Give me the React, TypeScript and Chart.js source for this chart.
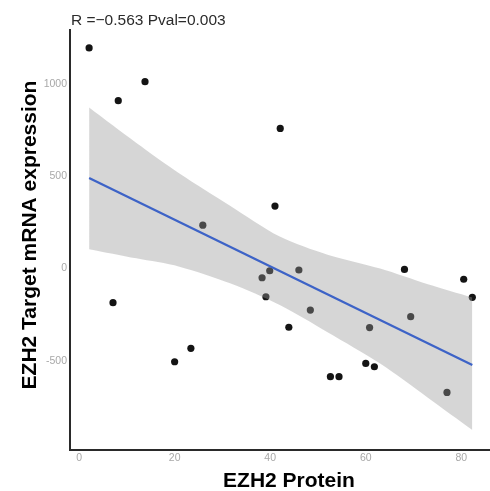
import { useEffect, useRef } from 'react';
import { Chart, registerables } from 'chart.js';

Chart.register(...registerables);

// EZH2 protein (x) vs EZH2 target mRNA expression (y)
const proteinX = [2.1, 8.2, 13.8, 7.1, 20.0, 23.4, 25.9, 42.1, 41.0, 38.3, 39.9, 46.0, 68.1, 80.5, 82.3, 39.1, 43.9, 48.4, 60.8, 69.4, 60.0, 61.8, 52.6, 54.4, 77.0];
const mrnaY = [1195, 909, 1012, -185, -505, -432, 235, 759, 338, -50, -12, -8, -5, -58, -156, -153, -318, -225, -320, -261, -514, -532, -586, -586, -671];

// fitted line and its confidence band
const fitX = [2.1, 82.3];
const fitY = [490, -523];
const bandX = [2.1, 12, 21, 31.6, 42, 52, 63, 73, 82.3];
const bandUpper = [872, 680, 515, 340, 173, 75, 0, -85, -157];
const bandLower = [105, 55, 10, -80, -198, -345, -515, -700, -875];

const xTicks = [0, 20, 40, 60, 80];
const yTicks = [-500, 0, 500, 1000];

const annotation = 'R =\u22120.563 Pval=0.003';
const xTitle = 'EZH2 Protein';
const yTitle = 'EZH2 Target mRNA expression';

const pts = (xs: number[], ys: number[]) => xs.map((x, i) => ({ x, y: ys[i] }));

const textPlugin = {
  id: 'texts',
  afterDraw(chart: any) {
    const { ctx, chartArea } = chart;
    ctx.save();
    ctx.fillStyle = '#2b2b2b';
    ctx.font = '15.5px "Liberation Sans", Arial, sans-serif';
    ctx.textAlign = 'left';
    ctx.textBaseline = 'alphabetic';
    ctx.fillText(annotation, chartArea.left + 1, 25);

    ctx.fillStyle = '#000';
    ctx.font = 'bold 21px "Liberation Sans", Arial, sans-serif';
    ctx.textAlign = 'center';
    ctx.fillText(xTitle, 289, 487);

    ctx.translate(36, 235);
    ctx.rotate(-Math.PI / 2);
    ctx.fillText(yTitle, 0, 0);
    ctx.restore();
  },
};

export default function App() {
  const ref = useRef<HTMLCanvasElement>(null);
  useEffect(() => {
    if (!ref.current) return;
    const tickFont = { family: '"Liberation Sans", Arial, sans-serif', size: 10.5 };
    const chart = new Chart(ref.current, {
      type: 'scatter',
      data: {
        datasets: [
          {
            data: pts(fitX, fitY),
            showLine: true,
            borderColor: '#3d63c7',
            borderWidth: 2.3,
            pointRadius: 0,
            fill: false,
          },
          {
            data: pts(bandX, bandUpper),
            showLine: true,
            borderWidth: 0,
            borderColor: 'rgba(0,0,0,0)',
            backgroundColor: 'rgba(153,153,153,0.4)',
            pointRadius: 0,
            tension: 0.3,
            fill: '+1',
          },
          {
            data: pts(bandX, bandLower),
            showLine: true,
            borderWidth: 0,
            borderColor: 'rgba(0,0,0,0)',
            pointRadius: 0,
            tension: 0.3,
            fill: false,
          },
          {
            data: pts(proteinX, mrnaY),
            showLine: false,
            pointRadius: 3.6,
            pointBackgroundColor: '#141414',
            pointBorderWidth: 0,
            backgroundColor: '#141414',
          },
        ],
      },
      options: {
        animation: false,
        responsive: false,
        layout: { autoPadding: false, padding: { top: 30, right: 0, left: 0, bottom: 0 } },
        plugins: { legend: { display: false }, tooltip: { enabled: false }, title: { display: false } },
        scales: {
          x: {
            type: 'linear',
            min: -1.9,
            max: 86,
            grid: { display: true, color: 'rgba(0,0,0,0)', drawTicks: false },
            border: { display: true, color: '#2a2a2a', width: 2 },
            ticks: { color: '#a8a8a8', font: tickFont, padding: 2, callback: (v: any) => String(v) },
            afterBuildTicks: (s: any) => { s.ticks = xTicks.map((value) => ({ value })); },
            afterFit: (s: any) => { s.height = 41; },
          },
          y: {
            type: 'linear',
            min: -983,
            max: 1292,
            grid: { display: true, color: 'rgba(0,0,0,0)', drawTicks: false },
            border: { display: true, color: '#2a2a2a', width: 2 },
            ticks: { color: '#a8a8a8', font: tickFont, padding: 3, callback: (v: any) => String(v) },
            afterBuildTicks: (s: any) => { s.ticks = yTicks.map((value) => ({ value })); },
            afterFit: (s: any) => { s.width = 70; },
          },
        },
      },
      plugins: [textPlugin],
    });
    return () => chart.destroy();
  }, []);
  return (
    <div style={{ position: 'fixed', left: 0, top: 0, width: 490, height: 491, background: '#fff' }}>
      <canvas ref={ref} width={490} height={491} style={{ width: 490, height: 491, display: 'block' }} />
    </div>
  );
}
